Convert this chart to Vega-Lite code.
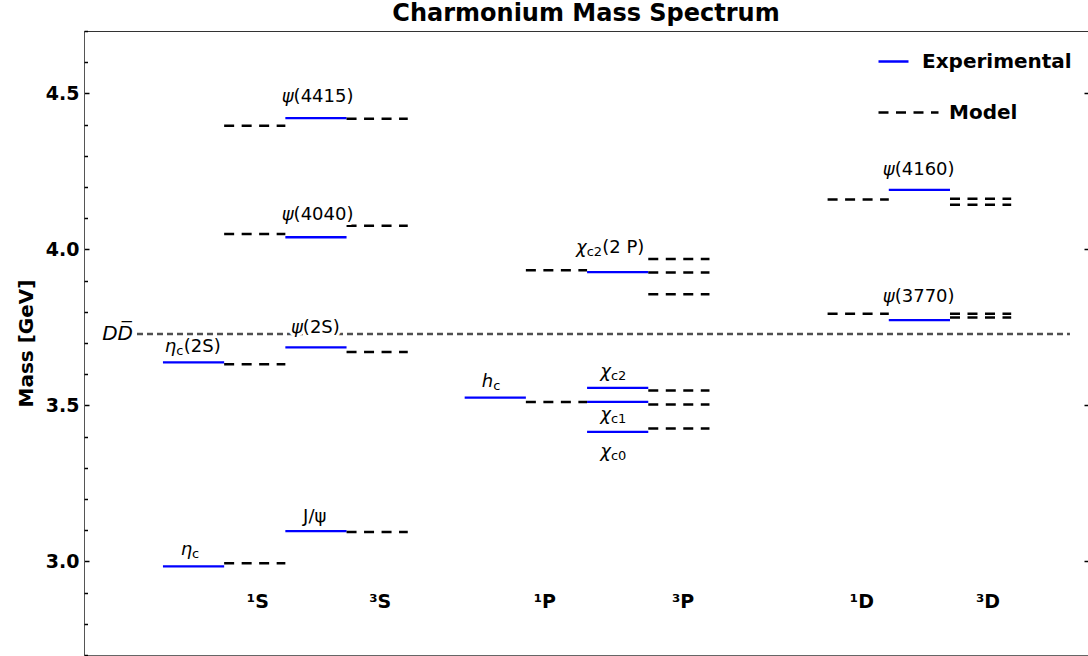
{
  "$schema": "https://vega.github.io/schema/vega-lite/v6.json",
  "width": 1004,
  "height": 624,
  "autosize": {"type": "none"},
  "padding": {"left": 84, "top": 31, "right": 0, "bottom": 1},
  "background": "white",
  "title": {"text": "Charmonium Mass Spectrum", "fontSize": 24, "fontWeight": "bold", "font": "DejaVu Sans", "offset": 4, "anchor": "middle", "color": "black"},
  "config": {"view": {"stroke": null}, "axis": {"grid": false}, "font": "DejaVu Sans"},
  "datasets": {
    "exp": [
      {"name": "ηc", "mass": 2.984, "x1": 0, "x2": 1},
      {"name": "ηc(2S)", "mass": 3.638, "x1": 0, "x2": 1},
      {"name": "J/ψ", "mass": 3.097, "x1": 2, "x2": 3},
      {"name": "ψ(2S)", "mass": 3.686, "x1": 2, "x2": 3},
      {"name": "ψ(4040)", "mass": 4.039, "x1": 2, "x2": 3},
      {"name": "ψ(4415)", "mass": 4.421, "x1": 2, "x2": 3},
      {"name": "hc", "mass": 3.525, "x1": 4.93, "x2": 5.93},
      {"name": "χc0", "mass": 3.415, "x1": 6.93, "x2": 7.93},
      {"name": "χc1", "mass": 3.511, "x1": 6.93, "x2": 7.93},
      {"name": "χc2", "mass": 3.556, "x1": 6.93, "x2": 7.93},
      {"name": "χc2(2P)", "mass": 3.927, "x1": 6.93, "x2": 7.93},
      {"name": "ψ(3770)", "mass": 3.773, "x1": 11.86, "x2": 12.86},
      {"name": "ψ(4160)", "mass": 4.191, "x1": 11.86, "x2": 12.86}
    ],
    "model": [
      {"state": "1S", "mass": 2.994, "x1": 1, "x2": 2},
      {"state": "1S", "mass": 3.632, "x1": 1, "x2": 2},
      {"state": "1S", "mass": 4.049, "x1": 1, "x2": 2},
      {"state": "1S", "mass": 4.396, "x1": 1, "x2": 2},
      {"state": "3S", "mass": 3.094, "x1": 3, "x2": 4},
      {"state": "3S", "mass": 3.671, "x1": 3, "x2": 4},
      {"state": "3S", "mass": 4.076, "x1": 3, "x2": 4},
      {"state": "3S", "mass": 4.419, "x1": 3, "x2": 4},
      {"state": "1P", "mass": 3.511, "x1": 5.93, "x2": 6.93},
      {"state": "1P", "mass": 3.933, "x1": 5.93, "x2": 6.93},
      {"state": "3P", "mass": 3.426, "x1": 7.93, "x2": 8.93},
      {"state": "3P", "mass": 3.503, "x1": 7.93, "x2": 8.93},
      {"state": "3P", "mass": 3.548, "x1": 7.93, "x2": 8.93},
      {"state": "3P", "mass": 3.856, "x1": 7.93, "x2": 8.93},
      {"state": "3P", "mass": 3.926, "x1": 7.93, "x2": 8.93},
      {"state": "3P", "mass": 3.969, "x1": 7.93, "x2": 8.93},
      {"state": "1D", "mass": 3.794, "x1": 10.86, "x2": 11.86},
      {"state": "1D", "mass": 4.160, "x1": 10.86, "x2": 11.86},
      {"state": "3D", "mass": 3.782, "x1": 12.86, "x2": 13.86},
      {"state": "3D", "mass": 3.794, "x1": 12.86, "x2": 13.86},
      {"state": "3D", "mass": 4.143, "x1": 12.86, "x2": 13.86},
      {"state": "3D", "mass": 4.162, "x1": 12.86, "x2": 13.86}
    ],
    "threshold": [
      {"name": "DD̅", "mass": 3.729, "x1": -0.424, "x2": 14.82}
    ],
    "labels": [
      {"main": "ψ", "sub": "", "restc": "", "restc2": "", "rest": "(4415)", "x": 2.135, "y": 4.490},
      {"main": "ψ", "sub": "", "restc": "", "restc2": "", "rest": "(4040)", "x": 2.135, "y": 4.111},
      {"main": "ψ", "sub": "", "restc": "", "restc2": "", "rest": "(2S)", "x": 2.286, "y": 3.748},
      {"main": "η", "sub": "c", "restc": "(2S)", "restc2": "", "rest": "", "x": 0.217, "y": 3.687},
      {"main": "η", "sub": "c", "restc": "", "restc2": "", "rest": "", "x": 0.476, "y": 3.035},
      {"main": "h", "sub": "c", "restc": "", "restc2": "", "rest": "", "x": 5.395, "y": 3.575},
      {"main": "χ", "sub": "c2", "restc": "", "restc2": "(2 P)", "rest": "", "x": 6.924, "y": 4.003},
      {"main": "χ", "sub": "c2", "restc": "", "restc2": "", "rest": "", "x": 7.32, "y": 3.607},
      {"main": "χ", "sub": "c1", "restc": "", "restc2": "", "rest": "", "x": 7.32, "y": 3.469},
      {"main": "χ", "sub": "c0", "restc": "", "restc2": "", "rest": "", "x": 7.32, "y": 3.350},
      {"main": "ψ", "sub": "", "restc": "", "restc2": "", "rest": "(4160)", "x": 11.957, "y": 4.256},
      {"main": "ψ", "sub": "", "restc": "", "restc2": "", "rest": "(3770)", "x": 11.957, "y": 3.848}
    ],
    "plainlabels": [
      {"label": "J/ψ", "x": 2.48, "y": 3.141}
    ],
    "spec": [
      {"label": "¹S", "x": 1.55, "y": 2.87},
      {"label": "³S", "x": 3.55, "y": 2.87},
      {"label": "¹P", "x": 6.24, "y": 2.87},
      {"label": "³P", "x": 8.5, "y": 2.87},
      {"label": "¹D", "x": 11.42, "y": 2.87},
      {"label": "³D", "x": 13.48, "y": 2.87}
    ]
  },
  "layer": [
    {
      "data": {"name": "threshold"},
      "mark": {"type": "rule", "color": "#505050", "strokeWidth": 2.4, "strokeDash": [6, 4]},
      "encoding": {
        "x": {"field": "x1", "type": "quantitative", "scale": {"domain": [-1.29, 15.115], "nice": false, "zero": false}, "axis": null},
        "x2": {"field": "x2"},
        "y": {"field": "mass", "type": "quantitative", "scale": {"domain": [2.7, 4.7], "nice": false, "zero": false}, "axis": null}
      }
    },
    {
      "data": {"name": "exp"},
      "mark": {"type": "rule", "strokeWidth": 2.3},
      "encoding": {
        "x": {"field": "x1", "type": "quantitative", "scale": {"domain": [-1.29, 15.115], "nice": false, "zero": false},
              "axis": {"orient": "bottom", "domain": true, "domainColor": "#666666", "domainWidth": 1, "ticks": false, "labels": false, "title": null}},
        "x2": {"field": "x2"},
        "y": {"field": "mass", "type": "quantitative", "scale": {"domain": [2.7, 4.7], "nice": false, "zero": false},
              "axis": {"orient": "left", "values": [3, 3.5, 4, 4.5], "format": ".1f", "tickSize": -5, "tickWidth": 1.5, "tickColor": "black",
                       "domainColor": "#555555", "domainWidth": 1, "labelFontSize": 19, "labelFontWeight": "bold", "labelColor": "black", "labelPadding": 10,
                       "title": "Mass [GeV]", "titleFontSize": 20, "titleFontWeight": "bold", "titleColor": "black", "titlePadding": 9}},
        "color": {"datum": "Experimental", "type": "nominal", "scale": {"range": ["#0000ff"]},
                  "legend": {"orient": "none", "legendX": 793, "legendY": 14, "title": null, "symbolType": "stroke", "symbolSize": 900,
                             "symbolStrokeWidth": 2.5, "labelFontSize": 20, "labelFontWeight": "bold", "labelColor": "black", "labelOffset": 12, "padding": 0}}
      }
    },
    {
      "data": {"name": "model"},
      "mark": {"type": "rule", "color": "black", "strokeWidth": 2.5},
      "encoding": {
        "x": {"field": "x1", "type": "quantitative", "scale": {"domain": [-1.29, 15.115], "nice": false, "zero": false},
              "axis": {"orient": "top", "domain": true, "domainColor": "#333333", "domainWidth": 1, "ticks": false, "labels": false, "title": null}},
        "x2": {"field": "x2"},
        "y": {"field": "mass", "type": "quantitative", "scale": {"domain": [2.7, 4.7], "nice": false, "zero": false},
              "axis": {"orient": "left", "values": [2.7, 2.8, 2.9, 3.1, 3.2, 3.3, 3.4, 3.6, 3.7, 3.8, 3.9, 4.1, 4.2, 4.3, 4.4, 4.6, 4.7],
                       "tickSize": -3.5, "tickWidth": 1.5, "tickColor": "black", "domain": false, "labels": false, "title": null}},
        "strokeDash": {"datum": "Model", "type": "nominal", "scale": {"range": [[10, 7.5]]},
                       "legend": {"orient": "none", "legendX": 793, "legendY": 50, "title": null, "symbolType": "stroke", "symbolSize": 3600,
                                  "symbolStrokeWidth": 2.5, "symbolStrokeColor": "black", "labelFontSize": 20, "labelFontWeight": "bold", "labelColor": "black", "labelOffset": 9, "padding": 0}}
      }
    },
    {
      "data": {"name": "labels"},
      "mark": {"type": "text", "fontSize": 18, "fontStyle": "italic", "color": "white", "stroke": "white", "strokeWidth": 6, "baseline": "middle", "align": "right"},
      "encoding": {
        "x": {"field": "x", "type": "quantitative", "scale": {"domain": [-1.29, 15.115], "nice": false, "zero": false}, "axis": null},
        "y": {"field": "y", "type": "quantitative", "scale": {"domain": [2.7, 4.7], "nice": false, "zero": false}, "axis": null},
        "text": {"field": "main"}
      }
    },
    {
      "data": {"name": "labels"},
      "mark": {"type": "text", "fontSize": 18, "color": "white", "stroke": "white", "strokeWidth": 6, "baseline": "middle", "align": "left"},
      "encoding": {
        "x": {"field": "x", "type": "quantitative", "scale": {"domain": [-1.29, 15.115], "nice": false, "zero": false}, "axis": null},
        "y": {"field": "y", "type": "quantitative", "scale": {"domain": [2.7, 4.7], "nice": false, "zero": false}, "axis": null},
        "text": {"field": "rest"}
      }
    },
    {
      "data": {"name": "labels"},
      "mark": {"type": "text", "fontSize": 18, "fontStyle": "italic", "color": "black", "baseline": "middle", "align": "right"},
      "encoding": {
        "x": {"field": "x", "type": "quantitative", "scale": {"domain": [-1.29, 15.115], "nice": false, "zero": false}, "axis": null},
        "y": {"field": "y", "type": "quantitative", "scale": {"domain": [2.7, 4.7], "nice": false, "zero": false},
              "axis": {"orient": "right", "values": [3, 3.5, 4, 4.5], "tickSize": -4, "tickWidth": 1.5, "tickColor": "black", "domain": false, "labels": false, "title": null}},
        "text": {"field": "main"}
      }
    },
    {
      "data": {"name": "labels"},
      "mark": {"type": "text", "fontSize": 18, "color": "black", "baseline": "middle", "align": "left"},
      "encoding": {
        "x": {"field": "x", "type": "quantitative", "scale": {"domain": [-1.29, 15.115], "nice": false, "zero": false}, "axis": null},
        "y": {"field": "y", "type": "quantitative", "scale": {"domain": [2.7, 4.7], "nice": false, "zero": false}, "axis": null},
        "text": {"field": "rest"}
      }
    },
    {
      "data": {"name": "labels"},
      "mark": {"type": "text", "fontSize": 13, "color": "black", "baseline": "middle", "align": "left", "dy": 4},
      "encoding": {
        "x": {"field": "x", "type": "quantitative", "scale": {"domain": [-1.29, 15.115], "nice": false, "zero": false}, "axis": null},
        "y": {"field": "y", "type": "quantitative", "scale": {"domain": [2.7, 4.7], "nice": false, "zero": false}, "axis": null},
        "text": {"field": "sub"}
      }
    },
    {
      "data": {"name": "labels"},
      "mark": {"type": "text", "fontSize": 18, "color": "black", "baseline": "middle", "align": "left", "dx": 7.5},
      "encoding": {
        "x": {"field": "x", "type": "quantitative", "scale": {"domain": [-1.29, 15.115], "nice": false, "zero": false}, "axis": null},
        "y": {"field": "y", "type": "quantitative", "scale": {"domain": [2.7, 4.7], "nice": false, "zero": false}, "axis": null},
        "text": {"field": "restc"}
      }
    },
    {
      "data": {"name": "labels"},
      "mark": {"type": "text", "fontSize": 18, "color": "black", "baseline": "middle", "align": "left", "dx": 15.5},
      "encoding": {
        "x": {"field": "x", "type": "quantitative", "scale": {"domain": [-1.29, 15.115], "nice": false, "zero": false}, "axis": null},
        "y": {"field": "y", "type": "quantitative", "scale": {"domain": [2.7, 4.7], "nice": false, "zero": false}, "axis": null},
        "text": {"field": "restc2"}
      }
    },
    {
      "data": {"name": "plainlabels"},
      "mark": {"type": "text", "fontSize": 18, "color": "black", "baseline": "middle", "align": "center"},
      "encoding": {
        "x": {"field": "x", "type": "quantitative", "scale": {"domain": [-1.29, 15.115], "nice": false, "zero": false}, "axis": null},
        "y": {"field": "y", "type": "quantitative", "scale": {"domain": [2.7, 4.7], "nice": false, "zero": false}, "axis": null},
        "text": {"field": "label"}
      }
    },
    {
      "data": {"name": "threshold"},
      "mark": {"type": "text", "fontSize": 20, "fontStyle": "italic", "color": "black", "baseline": "middle", "align": "right", "dx": -4},
      "encoding": {
        "x": {"field": "x1", "type": "quantitative", "scale": {"domain": [-1.29, 15.115], "nice": false, "zero": false}, "axis": null},
        "y": {"field": "mass", "type": "quantitative", "scale": {"domain": [2.7, 4.7], "nice": false, "zero": false}, "axis": null},
        "text": {"field": "name"}
      }
    },
    {
      "data": {"name": "spec"},
      "mark": {"type": "text", "fontSize": 19, "fontWeight": "bold", "color": "black", "baseline": "middle", "align": "center"},
      "encoding": {
        "x": {"field": "x", "type": "quantitative", "scale": {"domain": [-1.29, 15.115], "nice": false, "zero": false}, "axis": null},
        "y": {"field": "y", "type": "quantitative", "scale": {"domain": [2.7, 4.7], "nice": false, "zero": false}, "axis": null},
        "text": {"field": "label"}
      }
    }
  ],
  "resolve": {"axis": {"x": "independent", "y": "independent"}}
}
